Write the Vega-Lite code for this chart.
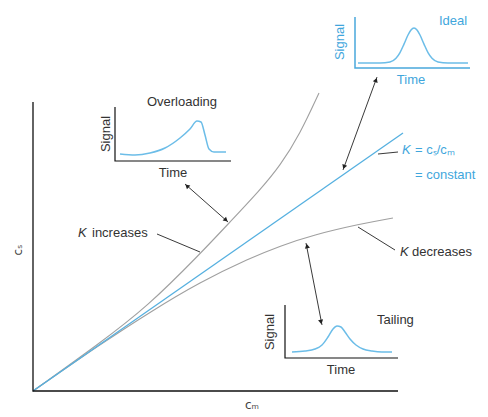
{
  "$schema": "https://vega.github.io/schema/vega-lite/v6.json",
  "width": 488,
  "height": 417,
  "padding": 0,
  "autosize": {"type": "fit", "contains": "padding"},
  "background": "white",
  "config": {"view": {"stroke": null}, "text": {"font": "Liberation Sans"}},
  "datasets": {
    "lines": [
      {"id": "axes", "g": "axis", "i": 1, "x": 0, "y": 28.9},
      {"id": "axes", "g": "axis", "i": 2, "x": 0, "y": 0},
      {"id": "axes", "g": "axis", "i": 3, "x": 36.5, "y": 0},

      {"id": "const", "g": "blue", "i": 1, "x": 0, "y": 0},
      {"id": "const", "g": "blue", "i": 2, "x": 37, "y": 25.8},

      {"id": "inc", "g": "gray", "i": 1, "x": 0, "y": 0},
      {"id": "inc", "g": "gray", "i": 2, "x": 6.7, "y": 4.8},
      {"id": "inc", "g": "gray", "i": 3, "x": 11.4, "y": 8.4},
      {"id": "inc", "g": "gray", "i": 4, "x": 16.7, "y": 13.7},
      {"id": "inc", "g": "gray", "i": 5, "x": 19.7, "y": 16.9},
      {"id": "inc", "g": "gray", "i": 6, "x": 22.7, "y": 20.1},
      {"id": "inc", "g": "gray", "i": 7, "x": 24.7, "y": 22.5},
      {"id": "inc", "g": "gray", "i": 8, "x": 26.7, "y": 25.7},
      {"id": "inc", "g": "gray", "i": 9, "x": 28.6, "y": 29.8},

      {"id": "dec", "g": "gray", "i": 1, "x": 0, "y": 0},
      {"id": "dec", "g": "gray", "i": 2, "x": 6.7, "y": 4.65},
      {"id": "dec", "g": "gray", "i": 3, "x": 11.7, "y": 7.9},
      {"id": "dec", "g": "gray", "i": 4, "x": 16.7, "y": 10.9},
      {"id": "dec", "g": "gray", "i": 5, "x": 21.7, "y": 13.3},
      {"id": "dec", "g": "gray", "i": 6, "x": 24.7, "y": 14.5},
      {"id": "dec", "g": "gray", "i": 7, "x": 28, "y": 15.6},
      {"id": "dec", "g": "gray", "i": 8, "x": 32.7, "y": 16.7},
      {"id": "dec", "g": "gray", "i": 9, "x": 36, "y": 17.3},

      {"id": "ovAx", "g": "inset", "i": 1, "x": 8.2, "y": 28.4},
      {"id": "ovAx", "g": "inset", "i": 2, "x": 8.2, "y": 23.0},
      {"id": "ovAx", "g": "inset", "i": 3, "x": 19.8, "y": 23.0},

      {"id": "taAx", "g": "inset", "i": 1, "x": 25.2, "y": 8.6},
      {"id": "taAx", "g": "inset", "i": 2, "x": 25.2, "y": 3.3},
      {"id": "taAx", "g": "inset", "i": 3, "x": 36.5, "y": 3.3},

      {"id": "idAx", "g": "bluax", "i": 1, "x": 32.2, "y": 37.4},
      {"id": "idAx", "g": "bluax", "i": 2, "x": 32.2, "y": 32.3},
      {"id": "idAx", "g": "bluax", "i": 3, "x": 43.7, "y": 32.3},

      {"id": "ovSig", "g": "sig", "i": 1, "x": 8.7, "y": 23.7},
      {"id": "ovSig", "g": "sig", "i": 2, "x": 10.2, "y": 23.6},
      {"id": "ovSig", "g": "sig", "i": 3, "x": 11.7, "y": 23.8},
      {"id": "ovSig", "g": "sig", "i": 4, "x": 13.2, "y": 24.3},
      {"id": "ovSig", "g": "sig", "i": 5, "x": 14.7, "y": 25.3},
      {"id": "ovSig", "g": "sig", "i": 6, "x": 15.7, "y": 26.2},
      {"id": "ovSig", "g": "sig", "i": 7, "x": 16.4, "y": 27.0},
      {"id": "ovSig", "g": "sig", "i": 8, "x": 16.8, "y": 26.9},
      {"id": "ovSig", "g": "sig", "i": 9, "x": 17.2, "y": 25.6},
      {"id": "ovSig", "g": "sig", "i": 10, "x": 17.6, "y": 24.2},
      {"id": "ovSig", "g": "sig", "i": 11, "x": 18.1, "y": 23.9},
      {"id": "ovSig", "g": "sig", "i": 12, "x": 19.3, "y": 23.9},

      {"id": "idSig", "g": "sig", "i": 1, "x": 32.5, "y": 32.8},
      {"id": "idSig", "g": "sig", "i": 2, "x": 33.7, "y": 32.8},
      {"id": "idSig", "g": "sig", "i": 3, "x": 34.7, "y": 32.8},
      {"id": "idSig", "g": "sig", "i": 4, "x": 35.7, "y": 32.9},
      {"id": "idSig", "g": "sig", "i": 5, "x": 36.3, "y": 33.27},
      {"id": "idSig", "g": "sig", "i": 6, "x": 36.7, "y": 33.84},
      {"id": "idSig", "g": "sig", "i": 7, "x": 37.1, "y": 34.69},
      {"id": "idSig", "g": "sig", "i": 8, "x": 37.5, "y": 35.6},
      {"id": "idSig", "g": "sig", "i": 9, "x": 37.8, "y": 36.11},
      {"id": "idSig", "g": "sig", "i": 10, "x": 38.1, "y": 36.3},
      {"id": "idSig", "g": "sig", "i": 11, "x": 38.4, "y": 36.11},
      {"id": "idSig", "g": "sig", "i": 12, "x": 38.7, "y": 35.6},
      {"id": "idSig", "g": "sig", "i": 13, "x": 39.1, "y": 34.69},
      {"id": "idSig", "g": "sig", "i": 14, "x": 39.5, "y": 33.84},
      {"id": "idSig", "g": "sig", "i": 15, "x": 39.9, "y": 33.27},
      {"id": "idSig", "g": "sig", "i": 16, "x": 40.5, "y": 32.9},
      {"id": "idSig", "g": "sig", "i": 17, "x": 41.5, "y": 32.8},
      {"id": "idSig", "g": "sig", "i": 18, "x": 43.5, "y": 32.8},

      {"id": "taSig", "g": "sig", "i": 1, "x": 25.9, "y": 3.9},
      {"id": "taSig", "g": "sig", "i": 2, "x": 27.2, "y": 4.0},
      {"id": "taSig", "g": "sig", "i": 3, "x": 28.2, "y": 4.2},
      {"id": "taSig", "g": "sig", "i": 4, "x": 28.9, "y": 4.6},
      {"id": "taSig", "g": "sig", "i": 5, "x": 29.5, "y": 5.4},
      {"id": "taSig", "g": "sig", "i": 6, "x": 30.0, "y": 6.2},
      {"id": "taSig", "g": "sig", "i": 7, "x": 30.4, "y": 6.5},
      {"id": "taSig", "g": "sig", "i": 8, "x": 30.8, "y": 6.4},
      {"id": "taSig", "g": "sig", "i": 9, "x": 31.2, "y": 5.9},
      {"id": "taSig", "g": "sig", "i": 10, "x": 31.7, "y": 5.2},
      {"id": "taSig", "g": "sig", "i": 11, "x": 32.3, "y": 4.6},
      {"id": "taSig", "g": "sig", "i": 12, "x": 33.0, "y": 4.2},
      {"id": "taSig", "g": "sig", "i": 13, "x": 33.9, "y": 4.0},
      {"id": "taSig", "g": "sig", "i": 14, "x": 34.9, "y": 3.9},
      {"id": "taSig", "g": "sig", "i": 15, "x": 35.9, "y": 3.9},

      {"id": "lInc", "g": "ptr", "i": 1, "x": 12.4, "y": 15.7},
      {"id": "lInc", "g": "ptr", "i": 2, "x": 16.7, "y": 13.9},
      {"id": "lDec", "g": "ptr", "i": 1, "x": 32.5, "y": 16.4},
      {"id": "lDec", "g": "ptr", "i": 2, "x": 36.2, "y": 14.1},
      {"id": "lCon", "g": "ptr", "i": 1, "x": 34.5, "y": 23.7},
      {"id": "lCon", "g": "ptr", "i": 2, "x": 36.5, "y": 23.9},
      {"id": "a1", "g": "ptr", "i": 1, "x": 15.2, "y": 20.7},
      {"id": "a1", "g": "ptr", "i": 2, "x": 19.5, "y": 16.9},
      {"id": "a2", "g": "ptr", "i": 1, "x": 34.4, "y": 31.4},
      {"id": "a2", "g": "ptr", "i": 2, "x": 31.0, "y": 22.1},
      {"id": "a3", "g": "ptr", "i": 1, "x": 27.3, "y": 14.8},
      {"id": "a3", "g": "ptr", "i": 2, "x": 28.9, "y": 6.6}
    ],
    "heads": [
      {"x": 15.4, "y": 20.5, "dir": 311.5},
      {"x": 19.3, "y": 17.1, "dir": 131.5},
      {"x": 34.3, "y": 31.1, "dir": 20},
      {"x": 31.1, "y": 22.4, "dir": 200},
      {"x": 27.4, "y": 14.5, "dir": 349},
      {"x": 28.8, "y": 6.9, "dir": 169}
    ],
    "labels": [
      {"t": "Overloading", "g": "dark", "x": 14.9, "y": 28.9},
      {"t": "Time", "g": "dark", "x": 14.0, "y": 21.8},
      {"t": "Time", "g": "dark", "x": 30.8, "y": 2.1},
      {"t": "Tailing", "g": "darkL", "x": 34.4, "y": 7.1},
      {"t": "increases", "g": "darkL", "x": 5.9, "y": 15.8},
      {"t": "decreases", "g": "darkL", "x": 37.9, "y": 13.9},
      {"t": "K", "g": "darkK", "x": 4.5, "y": 15.8},
      {"t": "K", "g": "darkK", "x": 36.7, "y": 13.9},
      {"t": "Ideal", "g": "blue", "x": 42.0, "y": 37.0},
      {"t": "Time", "g": "blue", "x": 37.8, "y": 31.1},
      {"t": "= cₛ/cₘ", "g": "blueL", "x": 38.2, "y": 24.1},
      {"t": "= constant", "g": "blueL", "x": 38.2, "y": 21.6},
      {"t": "K", "g": "blueK", "x": 36.9, "y": 24.1},
      {"t": "Signal", "g": "rotDark", "x": 7.3, "y": 25.7},
      {"t": "Signal", "g": "rotDark", "x": 23.7, "y": 5.9},
      {"t": "Signal", "g": "rotBlue", "x": 30.7, "y": 34.9},
      {"t": "cₛ", "g": "rotAxis", "x": -1.5, "y": 14.1},
      {"t": "cₘ", "g": "axisLbl", "x": 21.9, "y": -1.4}
    ]
  },
  "encoding": {
    "x": {"field": "x", "type": "quantitative", "scale": {"domain": [-3.3, 45.5], "nice": false, "zero": false}, "axis": null},
    "y": {"field": "y", "type": "quantitative", "scale": {"domain": [-2.6, 39.1], "nice": false, "zero": false}, "axis": null}
  },
  "layer": [
    {"data": {"name": "lines"}, "transform": [{"filter": "datum.g === 'gray'"}],
     "mark": {"type": "line", "color": "#a0a0a0", "strokeWidth": 1.1, "interpolate": "basis"},
     "encoding": {"detail": {"field": "id"}, "order": {"field": "i", "type": "quantitative"}}},
    {"data": {"name": "lines"}, "transform": [{"filter": "datum.g === 'blue'"}],
     "mark": {"type": "line", "color": "#55b0e0", "strokeWidth": 1.3},
     "encoding": {"detail": {"field": "id"}, "order": {"field": "i", "type": "quantitative"}}},
    {"data": {"name": "lines"}, "transform": [{"filter": "datum.g === 'sig'"}],
     "mark": {"type": "line", "color": "#6cbde8", "strokeWidth": 1.5, "interpolate": "monotone"},
     "encoding": {"detail": {"field": "id"}, "order": {"field": "i", "type": "quantitative"}}},
    {"data": {"name": "lines"}, "transform": [{"filter": "datum.g === 'axis'"}],
     "mark": {"type": "line", "color": "#111111", "strokeWidth": 1.3},
     "encoding": {"detail": {"field": "id"}, "order": {"field": "i", "type": "quantitative"}}},
    {"data": {"name": "lines"}, "transform": [{"filter": "datum.g === 'inset'"}],
     "mark": {"type": "line", "color": "#111111", "strokeWidth": 1.2},
     "encoding": {"detail": {"field": "id"}, "order": {"field": "i", "type": "quantitative"}}},
    {"data": {"name": "lines"}, "transform": [{"filter": "datum.g === 'bluax'"}],
     "mark": {"type": "line", "color": "#4aa8dc", "strokeWidth": 1.5},
     "encoding": {"detail": {"field": "id"}, "order": {"field": "i", "type": "quantitative"}}},
    {"data": {"name": "lines"}, "transform": [{"filter": "datum.g === 'ptr'"}],
     "mark": {"type": "line", "color": "#222222", "strokeWidth": 0.9},
     "encoding": {"detail": {"field": "id"}, "order": {"field": "i", "type": "quantitative"}}},
    {"data": {"name": "heads"},
     "mark": {"type": "point", "shape": "triangle-up", "filled": true, "color": "#222222", "size": 26, "opacity": 1},
     "encoding": {"angle": {"field": "dir", "type": "quantitative", "scale": null}}},
    {"data": {"name": "labels"}, "transform": [{"filter": "datum.g === 'dark'"}],
     "mark": {"type": "text", "fontSize": 13, "color": "#333333", "align": "center", "baseline": "middle"},
     "encoding": {"text": {"field": "t"}}},
    {"data": {"name": "labels"}, "transform": [{"filter": "datum.g === 'darkL'"}],
     "mark": {"type": "text", "fontSize": 13, "color": "#333333", "align": "left", "baseline": "middle"},
     "encoding": {"text": {"field": "t"}}},
    {"data": {"name": "labels"}, "transform": [{"filter": "datum.g === 'darkK'"}],
     "mark": {"type": "text", "fontSize": 13, "color": "#333333", "align": "left", "baseline": "middle", "fontStyle": "italic"},
     "encoding": {"text": {"field": "t"}}},
    {"data": {"name": "labels"}, "transform": [{"filter": "datum.g === 'blue'"}],
     "mark": {"type": "text", "fontSize": 13, "color": "#3fa6dc", "align": "center", "baseline": "middle"},
     "encoding": {"text": {"field": "t"}}},
    {"data": {"name": "labels"}, "transform": [{"filter": "datum.g === 'blueL'"}],
     "mark": {"type": "text", "fontSize": 13, "color": "#3fa6dc", "align": "left", "baseline": "middle"},
     "encoding": {"text": {"field": "t"}}},
    {"data": {"name": "labels"}, "transform": [{"filter": "datum.g === 'blueK'"}],
     "mark": {"type": "text", "fontSize": 13, "color": "#3fa6dc", "align": "left", "baseline": "middle", "fontStyle": "italic"},
     "encoding": {"text": {"field": "t"}}},
    {"data": {"name": "labels"}, "transform": [{"filter": "datum.g === 'rotDark'"}],
     "mark": {"type": "text", "fontSize": 13, "color": "#333333", "align": "center", "baseline": "middle", "angle": 270},
     "encoding": {"text": {"field": "t"}}},
    {"data": {"name": "labels"}, "transform": [{"filter": "datum.g === 'rotBlue'"}],
     "mark": {"type": "text", "fontSize": 13, "color": "#3fa6dc", "align": "center", "baseline": "middle", "angle": 270},
     "encoding": {"text": {"field": "t"}}},
    {"data": {"name": "labels"}, "transform": [{"filter": "datum.g === 'rotAxis'"}],
     "mark": {"type": "text", "fontSize": 12, "color": "#444444", "align": "center", "baseline": "middle", "angle": 270, "font": "DejaVu Sans"},
     "encoding": {"text": {"field": "t"}}},
    {"data": {"name": "labels"}, "transform": [{"filter": "datum.g === 'axisLbl'"}],
     "mark": {"type": "text", "fontSize": 12, "color": "#444444", "align": "center", "baseline": "middle", "font": "DejaVu Sans"},
     "encoding": {"text": {"field": "t"}}}
  ]
}
